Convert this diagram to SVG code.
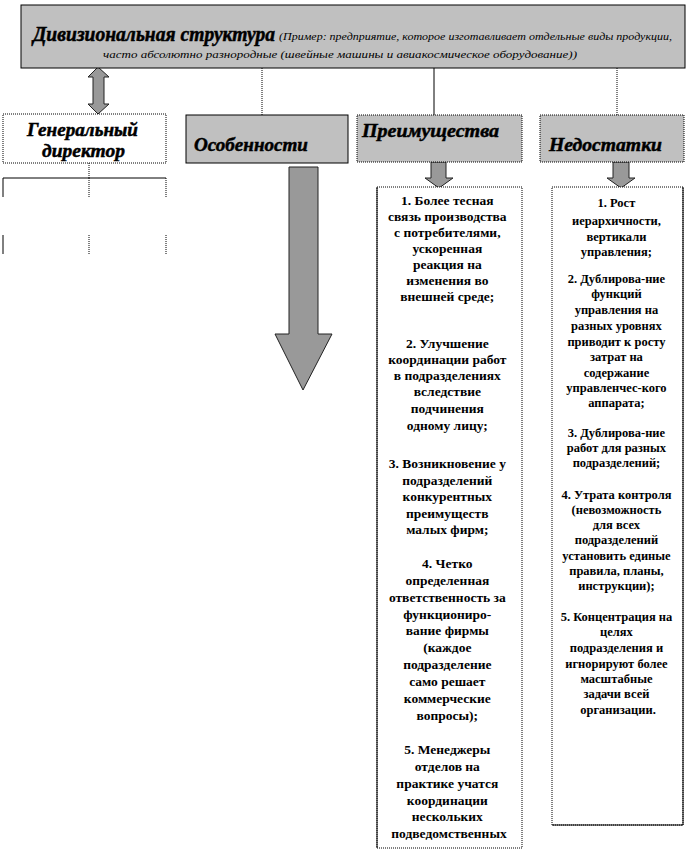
<svg xmlns="http://www.w3.org/2000/svg" width="687" height="851" viewBox="0 0 687 851">
<style>
.gray{fill:#c0c0c0;stroke:#000;stroke-width:1}
.white{fill:#fff;stroke:#000;stroke-width:1}
.dot{stroke-dasharray:1,1}
.arr{fill:#999;stroke:#222;stroke-width:1}
.ln{stroke:#000;stroke-width:1;fill:none}
text{font-family:'Liberation Serif','Times New Roman',serif}
.hd{font-weight:bold;font-style:italic;font-size:19.5px;fill:#000;stroke:#000;stroke-width:0.5}
.tt{font-weight:bold;font-style:italic;font-size:21px;fill:#000;stroke:#000;stroke-width:0.5}
.sm{font-style:italic;font-size:11px;fill:#000}
.b1{font-weight:bold;font-size:13.5px;fill:#000;text-anchor:middle}
.b2{font-weight:bold;font-size:12.5px;fill:#000;text-anchor:middle}
</style>
<g id="connectors">
<line class="ln dot" x1="262" y1="68" x2="262" y2="115"/>
<line class="ln" x1="434" y1="68" x2="434" y2="115"/>
<line class="ln dot" x1="617" y1="68" x2="617" y2="115"/>
<polygon class="arr" points="98,67 109,77 104,77 104,104 109,104 98,114 88,104 93,104 93,77 88,77"/>
<line class="ln dot" x1="89" y1="163" x2="89" y2="178"/>
<line class="ln" x1="3" y1="178" x2="166" y2="178"/>
<line class="ln" x1="3" y1="178" x2="3" y2="197"/>
<line class="ln dot" x1="89" y1="178" x2="89" y2="197"/>
<line class="ln dot" x1="166" y1="178" x2="166" y2="197"/>
<line class="ln" x1="3" y1="235" x2="3" y2="254"/>
<line class="ln dot" x1="89" y1="235" x2="89" y2="254"/>
<line class="ln dot" x1="166" y1="235" x2="166" y2="254"/>
<polygon class="arr" points="289,167 318,167 318,334 332,334 303,390 275,334 289,334"/>
<polygon class="arr" points="431,162 446,162 446,178 453,178 439,188 425,178 431,178"/>
<polygon class="arr" points="613,162 629,162 629,178 635,178 621,188 607,178 613,178"/>
</g>
<g id="title">
<rect class="gray" x="21" y="5" width="664" height="63"/>
<text class="tt" x="33" y="41" textLength="242" lengthAdjust="spacingAndGlyphs">Дивизиональная структура</text>
<text class="sm" x="279" y="40" textLength="393" lengthAdjust="spacingAndGlyphs">(Пример: предприятие, которое изготавливает  отдельные  виды продукции,</text>
<text class="sm" x="103" y="58" textLength="474" lengthAdjust="spacingAndGlyphs">часто абсолютно  разнородные  (швейные  машины  и авиакосмическое  оборудование))</text>
</g>
<g id="gendir">
<rect class="white dot" x="3" y="114" width="163" height="49"/>
<text class="hd" x="27" y="136" textLength="111" lengthAdjust="spacingAndGlyphs">Генеральный</text>
<text class="hd" x="42" y="157" textLength="83" lengthAdjust="spacingAndGlyphs">директор</text>
</g>
<g id="features">
<rect class="gray" x="186" y="115" width="162" height="48"/>
<text class="hd" x="194" y="151" textLength="114" lengthAdjust="spacingAndGlyphs">Особенности</text>
</g>
<g id="advantages">
<rect class="gray dot" x="357" y="115" width="165" height="47"/>
<text class="hd" x="362" y="137" textLength="137" lengthAdjust="spacingAndGlyphs">Преимущества</text>
</g>
<g id="disadvantages">
<rect class="gray dot" x="540" y="115" width="144" height="47"/>
<text class="hd" x="549" y="151" textLength="113" lengthAdjust="spacingAndGlyphs">Недостатки</text>
</g>
<g id="advantages-list">
<rect class="white dot" x="377" y="187" width="145" height="661"/>
<line class="ln" x1="377" y1="187" x2="377" y2="848"/>
<text class="b1">
<tspan x="449" y="205">1. Более тесная</tspan>
<tspan x="449" y="221">связь производства</tspan>
<tspan x="449" y="237">с потребителями,</tspan>
<tspan x="449" y="253">ускоренная</tspan>
<tspan x="449" y="269">реакция на</tspan>
<tspan x="449" y="285">изменения во</tspan>
<tspan x="449" y="301">внешней среде;</tspan>
<tspan x="449" y="348">2. Улучшение</tspan>
<tspan x="449" y="364">координации  работ</tspan>
<tspan x="449" y="380">в подразделениях</tspan>
<tspan x="449" y="396">вследствие</tspan>
<tspan x="449" y="413">подчинения</tspan>
<tspan x="449" y="430">одному лицу;</tspan>
<tspan x="449" y="468">3. Возникновение  у</tspan>
<tspan x="449" y="485">подразделений</tspan>
<tspan x="449" y="501">конкурентных</tspan>
<tspan x="449" y="518">преимуществ</tspan>
<tspan x="449" y="534">малых фирм;</tspan>
<tspan x="449" y="568">4. Четко</tspan>
<tspan x="449" y="585">определенная</tspan>
<tspan x="449" y="602">ответственность за</tspan>
<tspan x="449" y="619">функциониро-</tspan>
<tspan x="449" y="635">вание фирмы</tspan>
<tspan x="449" y="652">(каждое</tspan>
<tspan x="449" y="669">подразделение</tspan>
<tspan x="449" y="686">само решает</tspan>
<tspan x="449" y="703">коммерческие</tspan>
<tspan x="449" y="720">вопросы);</tspan>
<tspan x="449" y="754">5. Менеджеры</tspan>
<tspan x="449" y="771">отделов на</tspan>
<tspan x="449" y="788">практике учатся</tspan>
<tspan x="449" y="805">координации</tspan>
<tspan x="449" y="821">нескольких</tspan>
<tspan x="449" y="838">подведомственных</tspan>
</text>
</g>
<g id="disadvantages-list">
<rect class="white dot" x="552" y="187" width="131" height="638"/>
<line class="ln" x1="552" y1="825" x2="683" y2="825"/>
<line class="ln" x1="683" y1="187" x2="683" y2="825"/>
<text class="b2">
<tspan x="618" y="207">1. Рост</tspan>
<tspan x="618" y="225">иерархичности,</tspan>
<tspan x="618" y="241">вертикали</tspan>
<tspan x="618" y="256">управления;</tspan>
<tspan x="618" y="283">2. Дублирова-ние</tspan>
<tspan x="618" y="298">функций</tspan>
<tspan x="618" y="314">управления на</tspan>
<tspan x="618" y="330">разных уровнях</tspan>
<tspan x="618" y="346">приводит к росту</tspan>
<tspan x="618" y="361">затрат на</tspan>
<tspan x="618" y="377">содержание</tspan>
<tspan x="618" y="392">управленчес-кого</tspan>
<tspan x="618" y="407">аппарата;</tspan>
<tspan x="618" y="437">3. Дублирова-ние</tspan>
<tspan x="618" y="452">работ для разных</tspan>
<tspan x="618" y="467">подразделений;</tspan>
<tspan x="618" y="499">4. Утрата контроля</tspan>
<tspan x="618" y="514">(невозможность</tspan>
<tspan x="618" y="529">для всех</tspan>
<tspan x="618" y="544">подразделений</tspan>
<tspan x="618" y="560">установить  единые</tspan>
<tspan x="618" y="575">правила, планы,</tspan>
<tspan x="618" y="590">инструкции);</tspan>
<tspan x="618" y="621">5. Концентрация на</tspan>
<tspan x="618" y="636">целях</tspan>
<tspan x="618" y="652">подразделения и</tspan>
<tspan x="618" y="668">игнорируют более</tspan>
<tspan x="618" y="683">масштабные</tspan>
<tspan x="618" y="698">задачи всей</tspan>
<tspan x="618" y="714">организации.</tspan>
</text>
</g>
</svg>
